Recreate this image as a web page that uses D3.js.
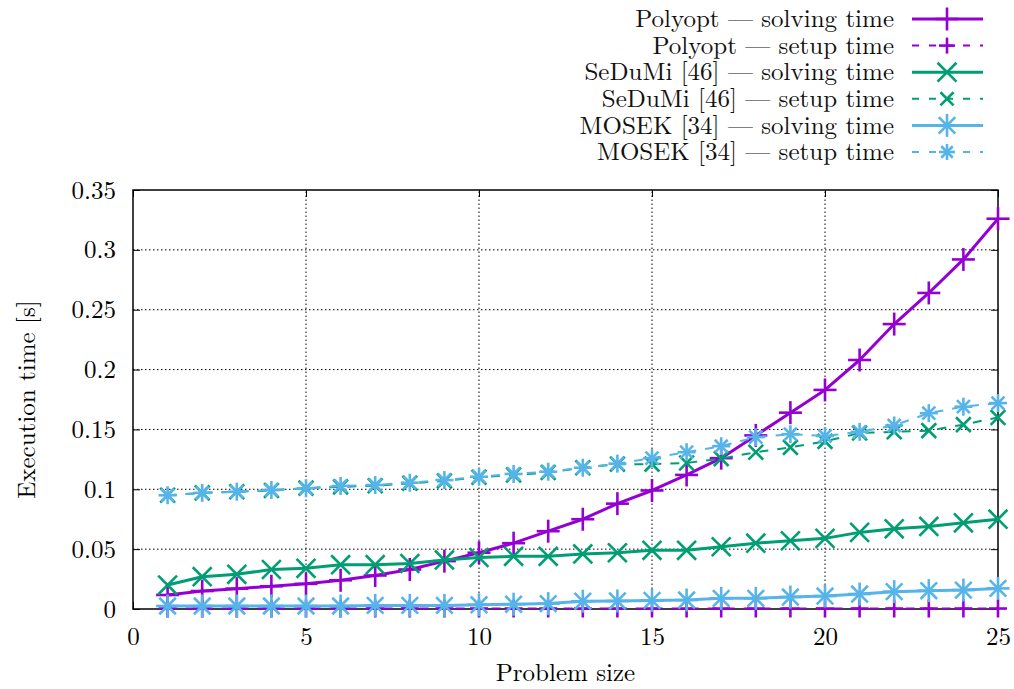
<!DOCTYPE html>
<html>
<head>
<meta charset="utf-8">
<script src="https://cdn.jsdelivr.net/npm/d3@7"></script>
<style>
  body { margin: 0; background: #fff; }
</style>
</head>
<body>
<div id="chart"></div>
<script>
// ---------------------------------------------
// Données
// ---------------------------------------------
const sizes = d3.range(1, 26);

const polyoptSolving = [0.0117, 0.015, 0.017, 0.019, 0.021, 0.024, 0.028, 0.033, 0.040, 0.047,
  0.055, 0.065, 0.075, 0.088, 0.099, 0.112, 0.126, 0.145, 0.164, 0.183,
  0.208, 0.238, 0.264, 0.292, 0.326];
const polyoptSetup = [0.0004, 0.0004, 0.0004, 0.0004, 0.0004, 0.0004, 0.0004, 0.0004, 0.0004, 0.0004,
  0.0004, 0.0004, 0.0004, 0.0004, 0.0004, 0.0004, 0.0004, 0.0004, 0.0004, 0.0004,
  0.0004, 0.0004, 0.0004, 0.0004, 0.0004];
const sedumiSolving = [0.020, 0.027, 0.029, 0.033, 0.034, 0.037, 0.037, 0.038, 0.041, 0.043,
  0.044, 0.044, 0.046, 0.047, 0.049, 0.049, 0.052, 0.055, 0.057, 0.059,
  0.064, 0.067, 0.069, 0.072, 0.075];
const sedumiSetup = [0.095, 0.097, 0.098, 0.099, 0.101, 0.102, 0.103, 0.105, 0.107, 0.110,
  0.112, 0.114, 0.118, 0.121, 0.121, 0.122, 0.1256, 0.131, 0.135, 0.140,
  0.147, 0.148, 0.149, 0.154, 0.160];
const mosekSolving = [0.0025, 0.0025, 0.0025, 0.0025, 0.0025, 0.0025, 0.003, 0.003, 0.003, 0.0035,
  0.004, 0.0045, 0.0065, 0.0067, 0.0072, 0.0075, 0.0089, 0.0089, 0.010, 0.0108,
  0.0125, 0.0145, 0.0153, 0.0158, 0.0172];
const mosekSetup = [0.095, 0.097, 0.098, 0.0994, 0.1008, 0.1028, 0.1036, 0.1055, 0.1077, 0.1105,
  0.1128, 0.1147, 0.118, 0.1214, 0.126, 0.131, 0.136, 0.1436, 0.146, 0.1445,
  0.148, 0.1533, 0.1636, 0.169, 0.172];

const xTicks = [0, 5, 10, 15, 20, 25];
const yTicks = [0, 0.05, 0.1, 0.15, 0.2, 0.25, 0.3, 0.35];

const series = [
  { label: "Polyopt", kind: "solving time", values: polyoptSolving, color: "#9400d3", dashed: false, marker: "plus" },
  { label: "Polyopt", kind: "setup time", values: polyoptSetup, color: "#9400d3", dashed: true, marker: "plus" },
  { label: "SeDuMi [46]", kind: "solving time", values: sedumiSolving, color: "#009e73", dashed: false, marker: "cross" },
  { label: "SeDuMi [46]", kind: "setup time", values: sedumiSetup, color: "#009e73", dashed: true, marker: "cross" },
  { label: "MOSEK [34]", kind: "solving time", values: mosekSolving, color: "#56b4e9", dashed: false, marker: "star" },
  { label: "MOSEK [34]", kind: "setup time", values: mosekSetup, color: "#56b4e9", dashed: true, marker: "star" }
];

// ---------------------------------------------
// Mise en page
// ---------------------------------------------
const width = 1014;
const height = 689;
const margin = { top: 190, right: 16, bottom: 80, left: 133 };
const font = '"Latin Modern Roman", "CMU Serif", serif';
const fontSize = "25px";

const svg = d3.select("#chart").append("svg")
  .attr("width", width)
  .attr("height", height);

const x = d3.scaleLinear().domain([0, 25]).range([margin.left, width - margin.right]);
const y = d3.scaleLinear().domain([0, 0.35]).range([height - margin.bottom, margin.top]);

const fmt = d => String(+d.toFixed(2));

// grille pointillée
const grid = svg.append("g");
grid.selectAll(".gx")
  .data(xTicks.filter(d => d > 0 && d < 25))
  .join("line")
  .attr("x1", d => x(d)).attr("x2", d => x(d))
  .attr("y1", y(0)).attr("y2", y(0.35))
  .attr("stroke", "#000").attr("stroke-width", 1).attr("stroke-dasharray", "1.5,2.5");
grid.selectAll(".gy")
  .data(yTicks.filter(d => d > 0 && d < 0.35))
  .join("line")
  .attr("x1", x(0)).attr("x2", x(25))
  .attr("y1", d => y(d)).attr("y2", d => y(d))
  .attr("stroke", "#000").attr("stroke-width", 1).attr("stroke-dasharray", "1.5,2.5");

// axes (ticks vers l'intérieur, des deux côtés)
const tickLen = 7;
svg.append("g")
  .attr("transform", `translate(0,${y(0)})`)
  .call(d3.axisBottom(x).tickValues(xTicks).tickSize(-tickLen).tickPadding(18).tickFormat(d3.format("d")))
  .call(g => g.select(".domain").remove());
svg.append("g")
  .attr("transform", `translate(0,${y(0.35)})`)
  .call(d3.axisTop(x).tickValues(xTicks).tickSize(-tickLen).tickFormat(""))
  .call(g => g.select(".domain").remove());
svg.append("g")
  .attr("transform", `translate(${x(0)},0)`)
  .call(d3.axisLeft(y).tickValues(yTicks).tickSize(-tickLen).tickPadding(17).tickFormat(fmt))
  .call(g => g.select(".domain").remove());
svg.append("g")
  .attr("transform", `translate(${x(25)},0)`)
  .call(d3.axisRight(y).tickValues(yTicks).tickSize(-tickLen).tickFormat(""))
  .call(g => g.select(".domain").remove());

svg.selectAll(".tick line").attr("stroke", "#000").attr("stroke-width", 1);
svg.selectAll(".tick text").style("font-family", font).style("font-size", fontSize);

// cadre
svg.append("rect")
  .attr("x", x(0)).attr("y", y(0.35))
  .attr("width", x(25) - x(0)).attr("height", y(0) - y(0.35))
  .attr("fill", "none").attr("stroke", "#000").attr("stroke-width", 1.5);

// titres des axes
svg.append("text")
  .attr("x", (x(0) + x(25)) / 2).attr("y", 681)
  .attr("text-anchor", "middle")
  .style("font-family", font).style("font-size", fontSize)
  .text("Problem size");
svg.append("text")
  .attr("transform", `translate(35,${(y(0) + y(0.35)) / 2}) rotate(-90)`)
  .attr("text-anchor", "middle")
  .style("font-family", font).style("font-size", fontSize)
  .text("Execution time [s]");

// ---------------------------------------------
// Marqueurs
// ---------------------------------------------
function drawMarker(g, type, cx, cy, color, s) {
  const segs = [];
  if (type === "plus" || type === "star") {
    segs.push([cx - s, cy, cx + s, cy], [cx, cy - s, cx, cy + s]);
  }
  if (type === "cross" || type === "star") {
    const k = type === "star" ? s * 0.72 : s * 0.82;
    segs.push([cx - k, cy - k, cx + k, cy + k], [cx - k, cy + k, cx + k, cy - k]);
  }
  segs.forEach(([x1, y1, x2, y2]) => {
    g.append("line")
      .attr("x1", x1).attr("y1", y1).attr("x2", x2).attr("y2", y2)
      .attr("stroke", color).attr("stroke-width", 2.6);
  });
}

// ---------------------------------------------
// Courbes
// ---------------------------------------------
const line = d3.line()
  .x((d, i) => x(sizes[i]))
  .y(d => y(d));

const plot = svg.append("g");
series.forEach(s => {
  const g = plot.append("g");
  g.append("path")
    .datum(s.values)
    .attr("d", line)
    .attr("fill", "none")
    .attr("stroke", s.color)
    .attr("stroke-width", s.dashed ? 2 : 3)
    .attr("stroke-dasharray", s.dashed ? "9,9" : null)
    .attr("stroke-linejoin", "round");
  s.values.forEach((v, i) => drawMarker(g, s.marker, x(sizes[i]), y(v), s.color, s.dashed ? 9 : 11.5));
});

// ---------------------------------------------
// Légende
// ---------------------------------------------
const legend = svg.append("g");
series.forEach((s, i) => {
  const ly = 19 + i * 26.6;
  legend.append("text")
    .attr("x", 894).attr("y", ly)
    .attr("dy", "0.33em")
    .attr("text-anchor", "end")
    .style("font-family", font).style("font-size", fontSize)
    .style("fill", "#111")
    .text(`${s.label} — ${s.kind}`);

  legend.append("line")
    .attr("x1", 912).attr("x2", 983)
    .attr("y1", ly).attr("y2", ly)
    .attr("stroke", s.color)
    .attr("stroke-width", s.dashed ? 2 : 3)
    .attr("stroke-dasharray", s.dashed ? "7,10" : null);
  drawMarker(legend, s.marker, 947, ly, s.color, s.dashed ? 8 : 11.5);
});
</script>
</body>
</html>
